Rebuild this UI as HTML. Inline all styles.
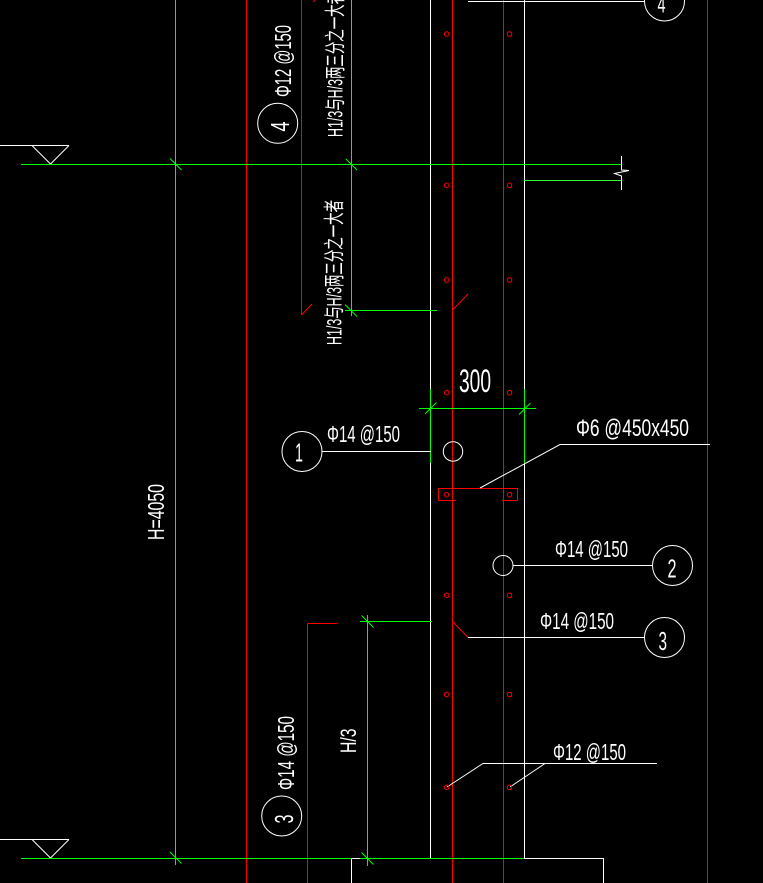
<!DOCTYPE html>
<html><head><meta charset="utf-8"><style>
html,body{margin:0;padding:0;background:#000;}
svg{display:block;}
text{font-family:"Liberation Sans","Noto Sans CJK SC",sans-serif;fill:#fff;}
</style></head><body>
<svg width="763" height="883" viewBox="0 0 763 883" xmlns="http://www.w3.org/2000/svg">
<rect x="0" y="0" width="763" height="883" fill="#000"/>
<g fill="none" stroke-width="1">
<!-- vertical lines -->
<line x1="175.5" y1="0" x2="175.5" y2="865" stroke="#00ff00"/>
<line x1="246.5" y1="0" x2="246.5" y2="883" stroke="#ff0000"/>
<line x1="301.5" y1="0" x2="301.5" y2="315" stroke="#ff0000"/>
<line x1="351.5" y1="0" x2="351.5" y2="316" stroke="#00ff00"/>
<line x1="430.5" y1="0" x2="430.5" y2="858" stroke="#ffffff"/>
<line x1="452.5" y1="0" x2="452.5" y2="883" stroke="#ff0000"/>
<line x1="503.5" y1="0" x2="503.5" y2="883" stroke="#ff0000"/>
<line x1="524.5" y1="0" x2="524.5" y2="858" stroke="#ffffff"/>
<line x1="707.5" y1="0" x2="707.5" y2="883" stroke="#ff0000"/>
<line x1="307.5" y1="623.5" x2="307.5" y2="883" stroke="#ff0000"/>
<line x1="307.5" y1="623.5" x2="337" y2="623.5" stroke="#ff0000"/>
<line x1="351.5" y1="858" x2="351.5" y2="883" stroke="#ffffff"/>
<line x1="603.5" y1="858" x2="603.5" y2="883" stroke="#ffffff"/>

<!-- top right leader & circle 4 -->
<line x1="468" y1="1.5" x2="645" y2="1.5" stroke="#ffffff"/>
<circle cx="664.5" cy="1" r="20" stroke="#ffffff"/>

<!-- levels -->
<line x1="0" y1="145.5" x2="69" y2="145.5" stroke="#ffffff"/>
<polyline points="32,145.5 50.5,164 69,145.5" stroke="#ffffff"/>
<line x1="21" y1="164.5" x2="621" y2="164.5" stroke="#00ff00"/>
<line x1="524" y1="180.5" x2="621" y2="180.5" stroke="#33ff33"/>
<polyline points="621.5,156 621.5,170 629,170.5 614.5,173.5 621.5,176 621.5,190" stroke="#ffffff"/>

<line x1="0" y1="839.5" x2="69" y2="839.5" stroke="#ffffff"/>
<polyline points="32,839.5 50.5,858 69,839.5" stroke="#ffffff"/>
<line x1="21" y1="858.5" x2="524" y2="858.5" stroke="#00ff00"/>
<line x1="351.5" y1="858.5" x2="360" y2="858.5" stroke="#ffffff"/>
<line x1="524" y1="858.5" x2="603.5" y2="858.5" stroke="#ffffff"/>

<!-- H1/3 dimension lines -->
<line x1="345" y1="310.5" x2="437" y2="310.5" stroke="#00ff00"/>
<line x1="301.5" y1="315" x2="312" y2="304" stroke="#ff0000"/>
<line x1="452.5" y1="310" x2="468" y2="294" stroke="#ff0000"/>
<line x1="313" y1="2" x2="316" y2="-1" stroke="#ff0000"/>

<!-- 300 dimension -->
<line x1="430.5" y1="389" x2="430.5" y2="463" stroke="#00ff00"/>
<line x1="524.5" y1="389" x2="524.5" y2="463" stroke="#00ff00"/>
<line x1="419" y1="408.5" x2="536" y2="408.5" stroke="#00ff00"/>

<!-- ticks -->
<g stroke="#00ff00">
<line x1="170" y1="158.5" x2="181.5" y2="170"/>
<line x1="346" y1="159" x2="357" y2="170"/>
<line x1="345" y1="304.5" x2="357" y2="316.5"/>
<line x1="425" y1="414" x2="436.5" y2="402.5"/>
<line x1="519" y1="414.5" x2="530.5" y2="403"/>
<line x1="361.5" y1="615.5" x2="373.5" y2="627.5"/>
<line x1="361.5" y1="852.5" x2="373.5" y2="864.5"/>
<line x1="170" y1="852" x2="181.5" y2="863.5"/>
</g>

<!-- circle 1 -->
<circle cx="302" cy="451.5" r="20" stroke="#ffffff"/>
<line x1="322" y1="451.5" x2="431" y2="451.5" stroke="#ffffff"/>
<circle cx="453" cy="451.5" r="9.7" stroke="#ffffff"/>

<!-- stirrup rect -->
<path d="M438.5,500.5 L438.5,488.5 L517.5,488.5 L517.5,500.5 L502,500.5 M438.5,500.5 L456,500.5" stroke="#ff0000"/>
<polyline points="480,488 560,444.5 710,444.5" stroke="#ffffff"/>

<!-- circle 2 -->
<circle cx="503" cy="565.5" r="10" stroke="#ffffff"/>
<line x1="513" y1="565.5" x2="652" y2="565.5" stroke="#ffffff"/>
<circle cx="672.5" cy="565.5" r="20" stroke="#ffffff"/>

<!-- circle 3 right -->
<line x1="452.5" y1="621.5" x2="468" y2="637.5" stroke="#ff0000"/>
<line x1="468" y1="637.5" x2="644.5" y2="637.5" stroke="#ffffff"/>
<circle cx="664.5" cy="637.5" r="20" stroke="#ffffff"/>

<!-- H/3 dimension -->
<line x1="367.5" y1="615" x2="367.5" y2="866" stroke="#00ff00"/>
<line x1="360" y1="621.5" x2="432" y2="621.5" stroke="#00ff00"/>

<!-- phi12 leader bottom -->
<polyline points="447,787 483,763.5 657,763.5" stroke="#ffffff"/>
<line x1="510" y1="787" x2="545" y2="763.5" stroke="#ffffff"/>

<!-- left circles -->
<circle cx="277.7" cy="123.3" r="20" stroke="#ffffff"/>
<circle cx="281.7" cy="816" r="20" stroke="#ffffff"/>

<!-- red dots -->
<g stroke="#ff0000">
<circle cx="446.7" cy="34" r="2.3"/><circle cx="509.5" cy="34" r="2.3"/>
<circle cx="446.7" cy="185.3" r="2.3"/><circle cx="509.5" cy="185.3" r="2.3"/>
<circle cx="446.7" cy="280" r="2.3"/><circle cx="509.5" cy="280" r="2.3"/>
<circle cx="446.7" cy="392.7" r="2.3"/><circle cx="509.5" cy="392.7" r="2.3"/>
<circle cx="446.5" cy="494.7" r="2.3"/><circle cx="509.5" cy="494.7" r="2.3"/>
<circle cx="446.7" cy="595.3" r="2.3"/><circle cx="509.5" cy="595.3" r="2.3"/>
<circle cx="446.7" cy="694.5" r="2.3"/><circle cx="509.5" cy="694.5" r="2.3"/>
<circle cx="446.7" cy="787.3" r="2.3"/><circle cx="509.5" cy="787.3" r="2.3"/>
</g>
</g>

<!-- horizontal texts -->
<text x="327" y="442" font-size="23" textLength="73" lengthAdjust="spacingAndGlyphs">Φ14 @150</text>
<text x="576" y="436" font-size="24" textLength="113" lengthAdjust="spacingAndGlyphs">Φ6 @450x450</text>
<text x="555" y="557" font-size="23" textLength="73" lengthAdjust="spacingAndGlyphs">Φ14 @150</text>
<text x="540" y="629" font-size="23" textLength="74" lengthAdjust="spacingAndGlyphs">Φ14 @150</text>
<text x="553" y="760" font-size="23" textLength="73" lengthAdjust="spacingAndGlyphs">Φ12 @150</text>
<text x="459" y="392" font-size="32" textLength="32" lengthAdjust="spacingAndGlyphs">300</text>

<!-- circle labels -->
<text x="295" y="461.5" font-size="26" textLength="8" lengthAdjust="spacingAndGlyphs">1</text>
<text x="667.5" y="577.5" font-size="26" textLength="9" lengthAdjust="spacingAndGlyphs">2</text>
<text x="658.5" y="650" font-size="26" textLength="8.5" lengthAdjust="spacingAndGlyphs">3</text>
<text x="657.5" y="12.5" font-size="24" textLength="8" lengthAdjust="spacingAndGlyphs">4</text>

<!-- rotated texts -->
<text transform="translate(291,97) rotate(-90)" font-size="23" textLength="72" lengthAdjust="spacingAndGlyphs">Φ12 @150</text>
<text transform="translate(342.5,137) rotate(-90)" font-size="21" textLength="145" lengthAdjust="spacingAndGlyphs">H1/3与H/3两三分之一大者</text>
<text transform="translate(341.5,345) rotate(-90)" font-size="21" textLength="145" lengthAdjust="spacingAndGlyphs">H1/3与H/3两三分之一大者</text>
<text transform="translate(164,540) rotate(-90)" font-size="23" textLength="56" lengthAdjust="spacingAndGlyphs">H=4050</text>
<text transform="translate(356,753) rotate(-90)" font-size="22" textLength="24.5" lengthAdjust="spacingAndGlyphs">H/3</text>
<text transform="translate(294,790) rotate(-90)" font-size="23" textLength="74" lengthAdjust="spacingAndGlyphs">Φ14 @150</text>
<text transform="translate(289,131.5) rotate(-90)" font-size="26" textLength="10" lengthAdjust="spacingAndGlyphs">4</text>
<text transform="translate(293,823.5) rotate(-90)" font-size="26" textLength="9" lengthAdjust="spacingAndGlyphs">3</text>
</svg>
</body></html>
